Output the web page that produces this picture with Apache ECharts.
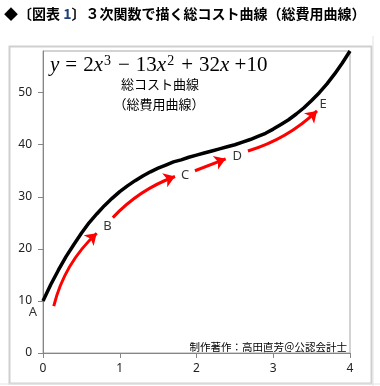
<!DOCTYPE html>
<html><head><meta charset="utf-8">
<script src="https://cdn.jsdelivr.net/npm/echarts@6/dist/echarts.min.js"></script>
<style>html,body{margin:0;padding:0;background:#fff}#c{width:380px;height:386px}</style>
</head><body><div id="c"></div>
<script>
// Total cost curve
var curveX = [0,0.1,0.2,0.3,0.4,0.5,0.6,0.7,0.8,0.9,1.0,1.1,1.2,1.3,1.4,1.5,1.6,1.7,1.8,1.9,2.0,2.1,2.2,2.3,2.4,2.5,2.6,2.7,2.8,2.9,3.0,3.1,3.2,3.3,3.4,3.5,3.6,3.7,3.8,3.9,4.0];
var curveY = [10,13.1,15.9,18.5,20.8,23.0,25.0,26.7,28.3,29.7,31.0,32.1,33.1,34.0,34.8,35.5,36.1,36.7,37.1,37.6,38.0,38.4,38.8,39.2,39.6,40.0,40.5,41.0,41.6,42.2,43.0,43.9,44.8,45.9,47.1,48.5,50.0,51.7,53.6,55.7,58.0];
// red arrows: start and end points
var arrowStart = [[0.14,9.0],[0.91,26.0],[1.98,35.0],[2.67,38.8]];
var arrowEnd   = [[0.70,23.0],[1.72,33.9],[2.38,37.3],[3.57,46.5]];
var arrowBend  = [0.15,0.12,0.0,-0.12];
// point letters
var letterNames = ['A','B','C','D','E'];
var letterX = [-0.13,0.84,1.85,2.53,3.65];
var letterY = [7.8,24.3,34.2,37.7,47.8];
var yTicks = [0,10,20,30,40,50];
var xTicks = [0,1,2,3,4];

var chart = echarts.init(document.getElementById('c'));
var curveData = curveX.map(function(x,i){return [x,curveY[i]];});
var arrowData = arrowStart.map(function(s,i){return {coords:[s,arrowEnd[i]], lineStyle:{curveness:arrowBend[i]}};});
var letterData = letterNames.map(function(n,i){return {value:[letterX[i],letterY[i]], name:n};});
var jp = '"Noto Sans CJK JP","Noto Sans",sans-serif';
var serif = '"Liberation Serif","DejaVu Serif",serif';
chart.setOption({
  animation:false,
  backgroundColor:'#fff',
  grid:{left:43,top:51,right:30,bottom:33,show:true,borderColor:'#a6a6a6',borderWidth:1,backgroundColor:'#fff'},
  xAxis:{type:'value',min:0,max:4,interval:1,
    axisLine:{show:true,onZero:false,lineStyle:{color:'#868686',width:1}},
    axisTick:{show:true,length:5,lineStyle:{color:'#868686'}},
    splitLine:{show:false},
    axisLabel:{color:'#222',fontSize:12,fontFamily:'"Noto Sans",sans-serif',margin:10}},
  yAxis:{type:'value',min:0,max:58,interval:10,
    axisLine:{show:true,onZero:false,lineStyle:{color:'#868686',width:1}},
    axisTick:{show:true,length:5,lineStyle:{color:'#868686'}},
    splitLine:{show:false},
    axisLabel:{color:'#222',fontSize:12,fontFamily:'"Noto Sans",sans-serif',margin:11,showMaxLabel:false,
      formatter:function(v){return yTicks.indexOf(v)>=0?String(v):'';}}},
  series:[
    {type:'line',data:curveData,showSymbol:false,symbol:'none',smooth:false,clip:false,
     lineStyle:{color:'#000',width:3.5},z:3},
    {type:'lines',coordinateSystem:'cartesian2d',data:arrowData,symbol:['none','arrow'],symbolSize:[0,11],
     lineStyle:{color:'#ff0000',width:3,opacity:1},z:4},
    {type:'scatter',data:letterData,symbolSize:0,clip:false,
     label:{show:true,position:'inside',formatter:'{b}',color:'#000',fontSize:13,fontFamily:'"Noto Sans",sans-serif'},z:5}
  ],
  graphic:[
    {type:'rect',left:7,top:44,shape:{width:362,height:337},style:{fill:'none',stroke:'#cfcfcf',lineWidth:2},z:-1,silent:true},
    {type:'line',shape:{x1:373,y1:36,x2:373,y2:386},style:{stroke:'#e3e3e3',lineWidth:1},silent:true},
    {type:'line',shape:{x1:0,y1:384,x2:380,y2:384},style:{stroke:'#e3e3e3',lineWidth:1},silent:true},
    {type:'text',left:4,top:7,style:{
      text:'◆〔図表 {b|1}〕３次関数で描く総コスト曲線（総費用曲線）',
      font:'bold 14px '+jp,fill:'#000',
      rich:{b:{fill:'#1f3e7a',font:'bold 14px '+jp}}}},
    {type:'text',left:50,top:54,style:{
      text:'{i|y}{o|=}2{i|x}{s|3}{o|−}13{i|x}{s|2}{o|+}32{i|x} +10',
      font:'21px '+serif,fill:'#000',
      rich:{i:{font:'italic 21px '+serif,fill:'#000'},
            o:{font:'21px '+serif,fill:'#000',padding:[0,6,0,6]},
            s:{font:'14px '+serif,fill:'#000',padding:[0,1,9,1]}}}},
    {type:'text',x:160,y:84,style:{text:'総コスト曲線',font:'13px '+jp,fill:'#000',textAlign:'center',textVerticalAlign:'middle'}},
    {type:'text',x:159,y:104,style:{text:'（総費用曲線）',font:'13px '+jp,fill:'#000',textAlign:'center',textVerticalAlign:'middle'}},
    {type:'text',x:347,y:347,style:{text:'制作著作：高田直芳＠公認会計士',font:'10.5px '+jp,fill:'#000',textAlign:'right',textVerticalAlign:'middle'}}
  ]
});
</script></body></html>
